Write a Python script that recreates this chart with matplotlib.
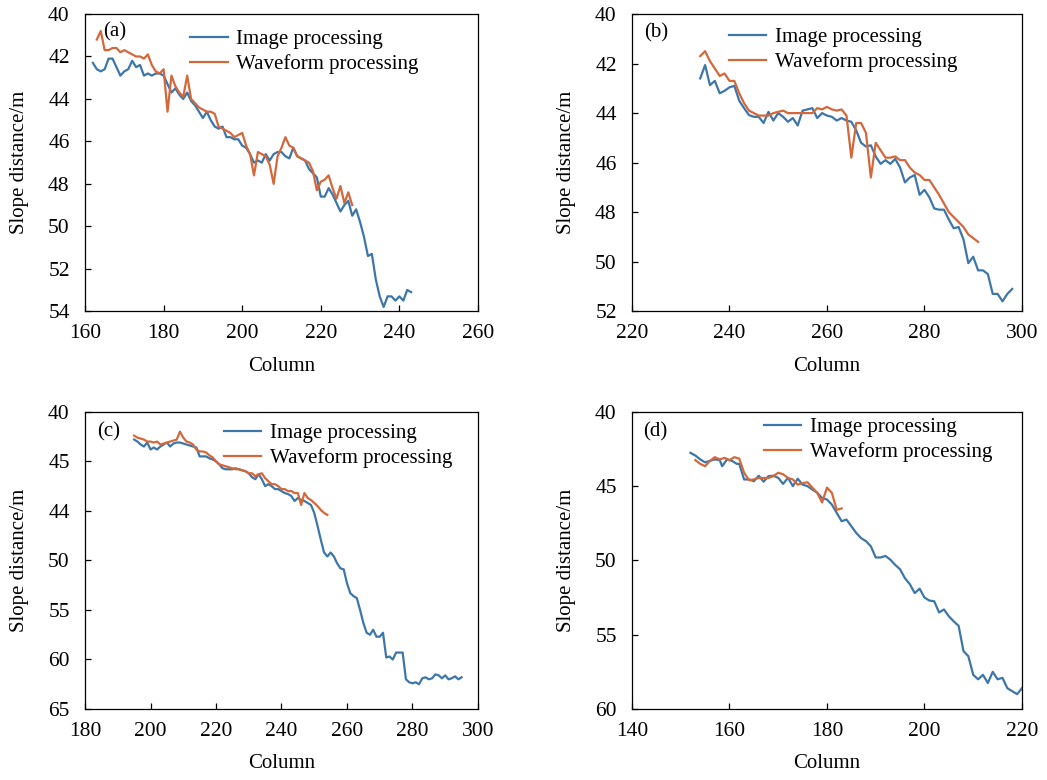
import numpy as np
import matplotlib
matplotlib.use("Agg")
import matplotlib.pyplot as plt

# ========================================
# Data
# ========================================

# (a)
a_img_cols = np.arange(162, 244)
a_img = [42.3, 42.6, 42.7, 42.6, 42.1, 42.1, 42.5, 42.9, 42.7, 42.6,
         42.2, 42.5, 42.4, 42.9, 42.8, 42.9, 42.8, 42.8, 42.9, 43.3,
         43.7, 43.5, 43.8, 44.0, 43.7, 44.1, 44.3, 44.6, 44.9, 44.6,
         45.0, 45.3, 45.4, 45.3, 45.8, 45.8, 45.9, 45.9, 46.2, 46.3,
         46.6, 47.0, 46.9, 47.0, 46.6, 46.9, 46.6, 46.5, 46.5, 46.7,
         46.8, 46.3, 46.7, 46.8, 46.9, 47.3, 47.5, 47.7, 48.6, 48.6,
         48.2, 48.5, 48.9, 49.3, 49.0, 48.8, 49.5, 49.2, 49.8, 50.5,
         51.4, 51.3, 52.5, 53.3, 53.8, 53.3, 53.3, 53.5, 53.3, 53.5,
         53.0, 53.1]
a_wav_cols = np.arange(163, 229)
a_wav = [41.2, 40.8, 41.7, 41.7, 41.6, 41.6, 41.8, 41.7, 41.8, 41.9,
         42.0, 42.0, 42.1, 41.9, 42.4, 42.7, 42.8, 42.6, 44.6, 42.9,
         43.4, 43.7, 43.9, 42.9, 44.0, 44.2, 44.4, 44.5, 44.6, 44.6,
         44.7, 45.3, 45.4, 45.5, 45.6, 45.8, 45.7, 45.6, 46.2, 46.6,
         47.6, 46.5, 46.6, 46.7, 47.1, 48.0, 46.7, 46.3, 45.8, 46.2,
         46.3, 46.7, 46.8, 46.9, 47.0, 47.4, 48.3, 47.9, 47.8, 47.6,
         48.2, 48.7, 48.1, 48.9, 48.4, 49.0]

# (b)
b_img_cols = np.arange(234, 299)
b_img = [42.6, 42.06, 42.87, 42.7, 43.2, 43.1, 42.96, 42.9, 43.5, 43.8,
         44.08, 44.15, 44.15, 44.4, 43.95, 44.3, 44.0, 44.15, 44.35, 44.2,
         44.5, 43.9, 43.85, 43.8, 44.2, 44.0, 44.1, 44.15, 44.3, 44.2,
         44.3, 44.35, 44.7, 45.2, 45.35, 45.3, 45.75, 46.05, 45.9, 46.05,
         45.85, 46.2, 46.8, 46.6, 46.5, 47.3, 47.1, 47.4, 47.85, 47.9,
         47.9, 48.3, 48.65, 48.6, 49.1, 50.06, 49.8, 50.35, 50.35, 50.5,
         51.3, 51.3, 51.6, 51.3, 51.1]
b_wav_cols = np.arange(234, 292)
b_wav = [41.7, 41.5, 41.9, 42.2, 42.5, 42.4, 42.7, 42.7, 43.2, 43.6,
         43.9, 44.0, 44.1, 44.1, 44.1, 44.0, 43.95, 43.9, 44.0, 44.0,
         44.0, 44.0, 44.0, 44.0, 43.8, 43.85, 43.75, 43.85, 43.9, 43.85,
         44.1, 45.8, 44.4, 44.4, 44.8, 46.6, 45.2, 45.5, 45.8, 45.8,
         45.75, 45.9, 45.9, 46.2, 46.4, 46.5, 46.7, 46.7, 47.0, 47.3,
         47.65, 48.0, 48.2, 48.4, 48.6, 48.9, 49.05, 49.2]

# (c)  -- values on the panel's own tick grid (ticks every 5 from 40)
c_img_cols = np.arange(195, 296)
c_img = [42.8, 43.0, 43.3, 43.5, 43.1, 43.8, 43.6, 43.8, 43.5, 43.3,
         43.1, 43.5, 43.2, 43.1, 43.1, 43.2, 43.3, 43.4, 43.5, 43.6,
         44.5, 44.5, 44.5, 44.7, 44.8, 45.0, 45.3, 45.7, 45.8, 45.8,
         45.8, 45.7, 45.8, 45.9, 46.0, 46.2, 46.6, 46.8, 46.3, 46.8,
         47.5, 47.3, 47.5, 47.8, 47.8, 48.0, 48.2, 48.3, 48.5, 49.0,
         48.7, 48.9, 49.0, 49.2, 49.4, 50.2, 51.5, 52.9, 54.2, 54.6,
         54.2, 54.6, 55.3, 55.8, 55.9, 57.3, 58.3, 58.6, 58.8, 60.0,
         61.3, 62.3, 62.5, 62.0, 62.7, 62.7, 62.3, 64.8, 64.7, 65.0,
         64.3, 64.3, 64.3, 67.0, 67.3, 67.4, 67.3, 67.5, 66.9, 66.8,
         67.0, 66.9, 66.5, 66.6, 66.9, 66.6, 67.0, 66.9, 66.7, 67.0,
         66.8]
c_wav_cols = np.arange(195, 255)
c_wav = [42.4, 42.6, 42.7, 42.8, 43.0, 43.0, 43.1, 43.0, 43.3, 43.2,
         43.1, 43.0, 42.9, 42.8, 42.0, 42.6, 43.0, 43.1, 43.3, 43.8,
         44.0, 44.0, 44.1, 44.4, 44.6, 45.0, 45.3, 45.4, 45.5, 45.6,
         45.7, 45.8, 45.8, 45.9, 46.0, 46.2, 46.2, 46.5, 46.3, 46.2,
         46.7, 47.0, 47.3, 47.3, 47.5, 47.8, 47.8, 48.0, 48.0, 48.2,
         48.2, 49.4, 48.2, 48.7, 48.9, 49.2, 49.5, 49.9, 50.2, 50.4]
c_tick_labels = ["40", "45", "44", "50", "55", "60", "65"]

# (d)
d_img_cols = [152, 153, 154, 155, 156, 157, 158, 158.5, 159.5, 160.5,
              161.5, 162, 163, 164, 165, 166, 167, 168, 169, 170,
              171, 172, 173, 174, 175, 176, 177, 178, 179, 180,
              181, 182, 183, 184, 185, 186, 187, 188, 189, 190,
              191, 192, 193, 194, 195, 196, 197, 198, 199, 200,
              201, 202, 203, 204, 205, 206, 207, 208, 209, 210,
              211, 212, 213, 214, 215, 216, 217, 218, 219, 220]
d_img = [42.76, 42.94, 43.2, 43.4, 43.3, 43.2, 43.25, 43.66, 43.2, 43.3,
         43.5, 43.5, 44.55, 44.55, 44.67, 44.3, 44.7, 44.33, 44.3, 44.44,
         44.85, 44.44, 45.0, 44.5, 44.9, 45.0, 45.23, 45.45, 45.8, 45.9,
         46.24, 46.8, 47.36, 47.25, 47.7, 48.15, 48.5, 48.7, 49.05, 49.8,
         49.8, 49.7, 49.95, 50.3, 50.6, 51.2, 51.6, 52.2, 51.9, 52.5,
         52.7, 52.75, 53.5, 53.3, 53.76, 54.1, 54.4, 56.1, 56.45, 57.7,
         58.0, 57.7, 58.25, 57.5, 58.0, 57.9, 58.6, 58.8, 59.0, 58.6]
d_wav_cols = np.arange(153, 184)
d_wav = [43.25, 43.5, 43.66, 43.3, 43.05, 43.2, 43.1, 43.25, 43.05, 43.15,
         44.1, 44.6, 44.55, 44.45, 44.45, 44.45, 44.33, 44.1, 44.2, 44.45,
         44.55, 44.9, 44.8, 44.74, 45.1, 45.45, 46.1, 45.1, 45.45, 46.6,
         46.5]

SERIES_LABELS = ["Image processing", "Waveform processing"]

# ========================================
# Style
# ========================================

BLUE = "#3d76a8"
ORANGE = "#d4683b"
plt.rcParams["font.family"] = ["Liberation Serif", "DejaVu Serif"]
plt.rcParams["font.size"] = 15

fig = plt.figure(figsize=(10.47, 7.8), dpi=100)

panels = [
    dict(rect=[0.0812, 0.601, 0.3753, 0.381], tag="(a)",
         img=(a_img_cols, a_img), wav=(a_wav_cols, a_wav),
         xlim=(160, 260), xticks=np.arange(160, 261, 20),
         ylim=(54, 40), yticks=np.arange(40, 55, 2), ylabels=None,
         leg=(0.268, 0.948), tagpos=(0.046, 0.94)),
    dict(rect=[0.6036, 0.601, 0.3725, 0.381], tag="(b)",
         img=(b_img_cols, b_img), wav=(b_wav_cols, b_wav),
         xlim=(220, 300), xticks=np.arange(220, 301, 20),
         ylim=(52, 40), yticks=np.arange(40, 53, 2), ylabels=None,
         leg=(0.248, 0.955), tagpos=(0.031, 0.936)),
    dict(rect=[0.0812, 0.091, 0.3753, 0.381], tag="(c)",
         img=(c_img_cols, c_img), wav=(c_wav_cols, c_wav),
         xlim=(180, 300), xticks=np.arange(180, 301, 20),
         ylim=(70, 40), yticks=np.arange(40, 71, 5), ylabels=c_tick_labels,
         leg=(0.353, 0.96), tagpos=(0.03, 0.933)),
    dict(rect=[0.6036, 0.091, 0.3725, 0.381], tag="(d)",
         img=(d_img_cols, d_img), wav=(d_wav_cols, d_wav),
         xlim=(140, 220), xticks=np.arange(140, 221, 20),
         ylim=(60, 40), yticks=np.arange(40, 61, 5), ylabels=None,
         leg=(0.338, 0.98), tagpos=(0.028, 0.933)),
]

for p in panels:
    ax = fig.add_axes(p["rect"])
    ax.plot(p["img"][0], p["img"][1], color=BLUE, lw=1.6, label=SERIES_LABELS[0])
    ax.plot(p["wav"][0], p["wav"][1], color=ORANGE, lw=1.6, label=SERIES_LABELS[1])

    ax.set_xlim(*p["xlim"])
    ax.set_xticks(p["xticks"])
    ax.set_ylim(*p["ylim"])
    ax.set_yticks(p["yticks"])
    if p["ylabels"] is not None:
        ax.set_yticklabels(p["ylabels"])

    ax.tick_params(direction="in", length=4, width=0.9, labelsize=15.5)
    ax.tick_params(axis="x", pad=9)
    ax.tick_params(axis="y", pad=11)
    for s in ax.spines.values():
        s.set_linewidth(0.9)

    ax.set_xlabel("Column", fontsize=15, labelpad=10)
    ax.set_ylabel("Slope distance/m", fontsize=15, labelpad=14)
    ax.text(p["tagpos"][0], p["tagpos"][1], p["tag"], transform=ax.transAxes,
            fontsize=15, va="center", ha="left")

    ax.legend(loc="upper left", bbox_to_anchor=p["leg"], frameon=False,
              fontsize=15, handlelength=1.8, handletextpad=0.4,
              labelspacing=0.25, borderpad=0, borderaxespad=0)

fig.savefig("out.png", dpi=100)
